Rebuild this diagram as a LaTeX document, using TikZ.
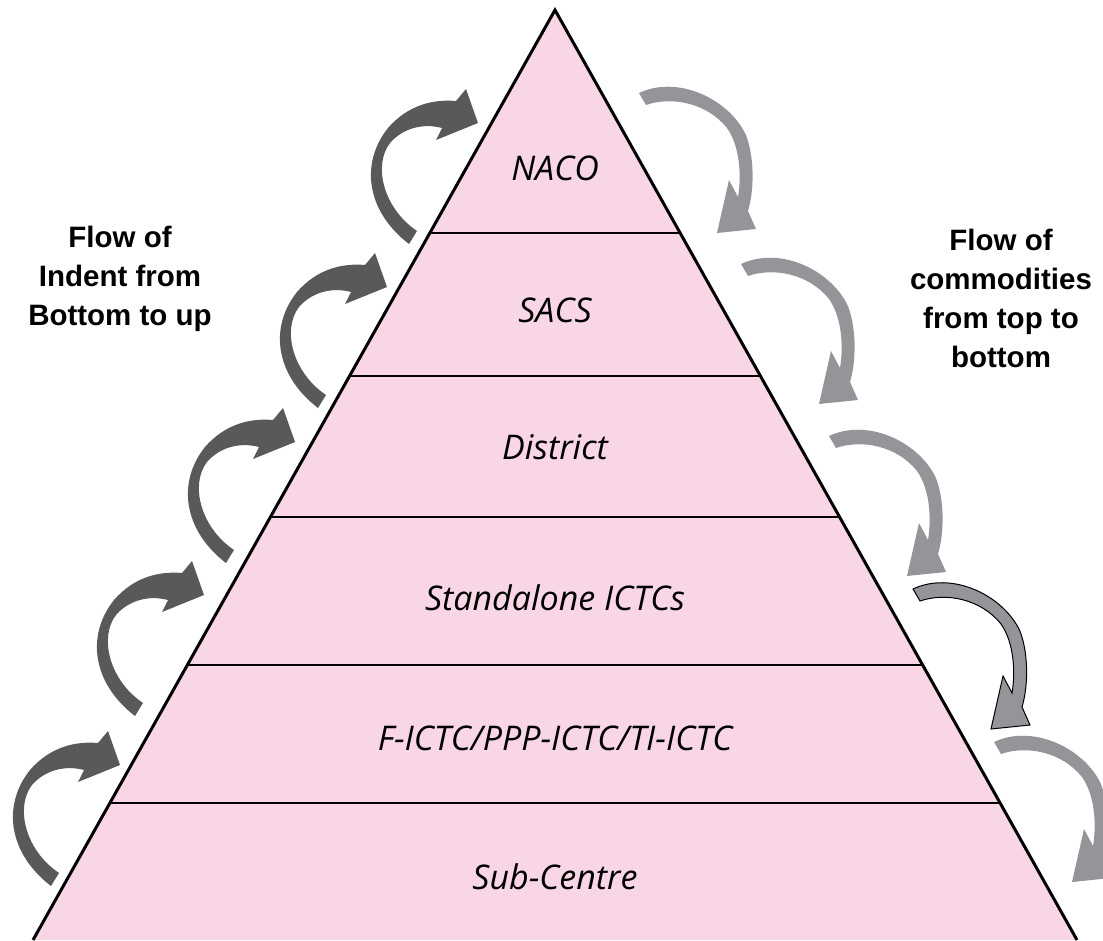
\documentclass[tikz,border=0pt]{standalone}
\usepackage{fontspec}
\usepackage{tikz}
\usetikzlibrary{calc,positioning}
\newfontfamily\layerfont{Open Sans}
\newfontfamily\flowfont{Liberation Sans}
\definecolor{layerpink}{RGB}{249,214,230}
\definecolor{indentgray}{RGB}{88,89,91}
\definecolor{supplygray}{RGB}{147,149,152}

\tikzset{
  upflow/.pic={
    \path[fill=indentgray, pic actions] (-69,121) .. controls (-112,88) and (-118,40) .. (-90,5)
      .. controls (-70,-18) and (-45,-24) .. (-22,-22) -- (-12,-34) -- (0,0)
      -- (-42,17) -- (-36,5) .. controls (-55,0) and (-75,5) .. (-88,20)
      .. controls (-105,42) and (-95,85) .. (-61,108) -- cycle;
  },
  downflow/.pic={
    \path[fill=supplygray, pic actions] (-78,-140) .. controls (-40,-158) and (10,-135) .. (28,-100)
      .. controls (37,-80) and (38,-45) .. (31,-22) -- (39,-4) -- (0,0)
      -- (12,-53) -- (21,-36) .. controls (25,-60) and (22,-88) .. (10,-105)
      .. controls (-10,-130) and (-45,-137) .. (-71,-128) -- cycle;
  }
}

\begin{document}
\begin{tikzpicture}[
    x=1pt, y=-1pt,
    edge/.style={draw=black, line width=3pt},
    sep/.style={draw=black, line width=2.8pt},
    layer/.style={font=\layerfont\itshape\fontsize{34}{40}\selectfont, inner sep=0pt},
    flowtext/.style={font=\flowfont\bfseries\fontsize{29.5}{39}\selectfont,
                     align=center, inner sep=0pt}
]
\useasboundingbox (0,0) rectangle (1103,940);
\clip (0,0) rectangle (1103,940);

% Pyramid
\coordinate (apex) at (555,10);
\coordinate (bl) at (33,940);
\coordinate (br) at (1077,940);
\fill[layerpink] (apex) -- (bl) -- (br) -- cycle;
\draw[edge] (bl) -- (apex) -- (br);

% Layer borders
\draw[sep] ($(apex)!0.2398!(bl)$) -- ($(apex)!0.2398!(br)$);
\draw[sep] ($(apex)!0.3935!(bl)$) -- ($(apex)!0.3935!(br)$);
\draw[sep] ($(apex)!0.5452!(bl)$) -- ($(apex)!0.5452!(br)$);
\draw[sep] ($(apex)!0.7043!(bl)$) -- ($(apex)!0.7043!(br)$);
\draw[sep] ($(apex)!0.8527!(bl)$) -- ($(apex)!0.8527!(br)$);

% Levels
\node[layer] (naco) at (555,168) {NACO};
\node[layer] (sacs) at (555,310) {SACS};
\node[layer] (district) at (555,447) {District};
\node[layer] (ictc) at (555,598) {Standalone ICTCs};
\node[layer] (fictc) at (555,738) {F-ICTC/PPP-ICTC/TI-ICTC};
\node[layer] (subcentre) at (555,877) {Sub-Centre};

% Side captions
\node[flowtext] (indent) at (120,279) {Flow of\\Indent from\\Bottom to up};
\node[flowtext] (supply) at (1001,298) {Flow of\\commodities\\from top to\\bottom};

% Indent arrows (bottom to up)
\pic at (478,123) {upflow};
\pic at (387,287) {upflow};
\pic at (295,442) {upflow};
\pic at (204,595) {upflow};
\pic at (120,765) {upflow};

% Commodity arrows (top to bottom)
\pic at (717,233) {downflow};
\pic at (819,404) {downflow};
\pic at (907,576) {downflow};
\pic[draw=black, line width=1pt] at (991,729) {downflow};
\pic at (1072,882) {downflow};
\end{tikzpicture}
\end{document}
